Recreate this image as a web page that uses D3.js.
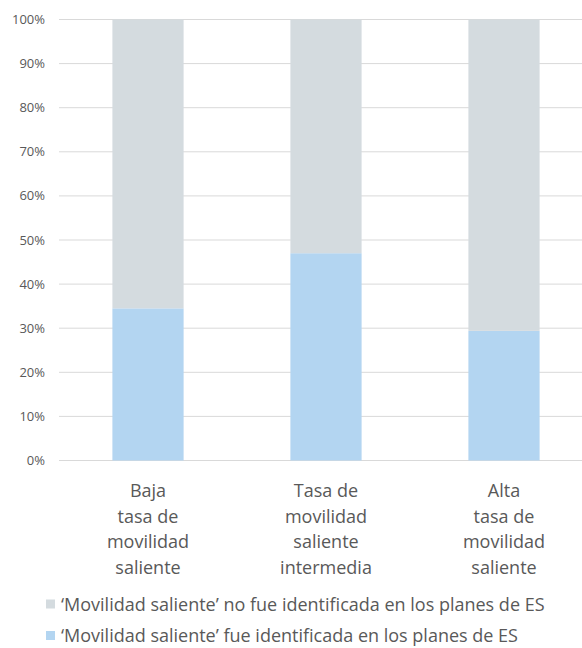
<!DOCTYPE html>
<html>
<head>
<meta charset="utf-8">
<script src="https://cdn.jsdelivr.net/npm/d3@7"></script>
<style>
  body { margin: 0; background: #fff; }
  text { font-family: "Open Sans", "Noto Sans", sans-serif; fill: #595959; }
</style>
</head>
<body>
<svg id="chart"></svg>
<script>
// categories (lines of each x label)
var categories = [
  ["Baja", "tasa de", "movilidad", "saliente"],
  ["Tasa de", "movilidad", "saliente", "intermedia"],
  ["Alta", "tasa de", "movilidad", "saliente"]
];
var identified = [34.5, 47.0, 29.4];
var notIdentified = identified.map(v => 100 - v);
var seriesNames = [
  "\u2018Movilidad saliente\u2019 no fue identificada en los planes de ES",
  "\u2018Movilidad saliente\u2019 fue identificada en los planes de ES"
];
var colors = ["#d4dbdf", "#b3d5f1"];
var yTicks = [0, 10, 20, 30, 40, 50, 60, 70, 80, 90, 100];

var width = 582, height = 648;
var margin = { top: 19.5, left: 59, right: 0, bottom: 187.5 };

var svg = d3.select("#chart").attr("width", width).attr("height", height);

var x = d3.scaleBand().domain(d3.range(categories.length))
  .range([margin.left, 593]).paddingInner(0.6).paddingOuter(0.3);
var y = d3.scaleLinear().domain([0, 100]).range([height - margin.bottom, margin.top]);

// gridlines + y labels
svg.selectAll(".grid").data(yTicks).join("line")
  .attr("x1", margin.left).attr("x2", width)
  .attr("y1", d => y(d)).attr("y2", d => y(d))
  .attr("stroke", "#d9d9d9").attr("stroke-width", 1);

svg.selectAll(".ylab").data(yTicks).join("text")
  .attr("x", 45).attr("y", d => y(d)).attr("dy", "0.35em")
  .attr("text-anchor", "end").attr("font-size", 13)
  .text(d => d + "%");

// stacked bars
var rows = categories.map((c, i) => ({ i: i, a: identified[i], b: notIdentified[i] }));
svg.selectAll(".blue").data(rows).join("rect")
  .attr("x", d => x(d.i)).attr("width", x.bandwidth())
  .attr("y", d => y(d.a)).attr("height", d => y(0) - y(d.a))
  .attr("fill", colors[1]);
svg.selectAll(".gray").data(rows).join("rect")
  .attr("x", d => x(d.i)).attr("width", x.bandwidth())
  .attr("y", d => y(d.a + d.b)).attr("height", d => y(d.a) - y(d.a + d.b))
  .attr("fill", colors[0]);

// x labels
var xl = svg.selectAll(".xlab").data(categories).join("text")
  .attr("text-anchor", "middle").attr("font-size", 18);
xl.each(function(lines, i) {
  d3.select(this).selectAll("tspan").data(lines).join("tspan")
    .attr("x", x(i) + x.bandwidth() / 2)
    .attr("y", (d, j) => 497 + j * 25.5)
    .text(d => d);
});

// legend
var legend = svg.selectAll(".leg").data(seriesNames).join("g")
  .attr("transform", (d, i) => `translate(46, ${599.5 + i * 31.5})`);
legend.append("rect").attr("width", 9).attr("height", 9)
  .attr("fill", (d, i) => colors[i]);
legend.append("text").attr("x", 15).attr("y", 11).attr("font-size", 18)
  .text(d => d);
</script>
</body>
</html>
